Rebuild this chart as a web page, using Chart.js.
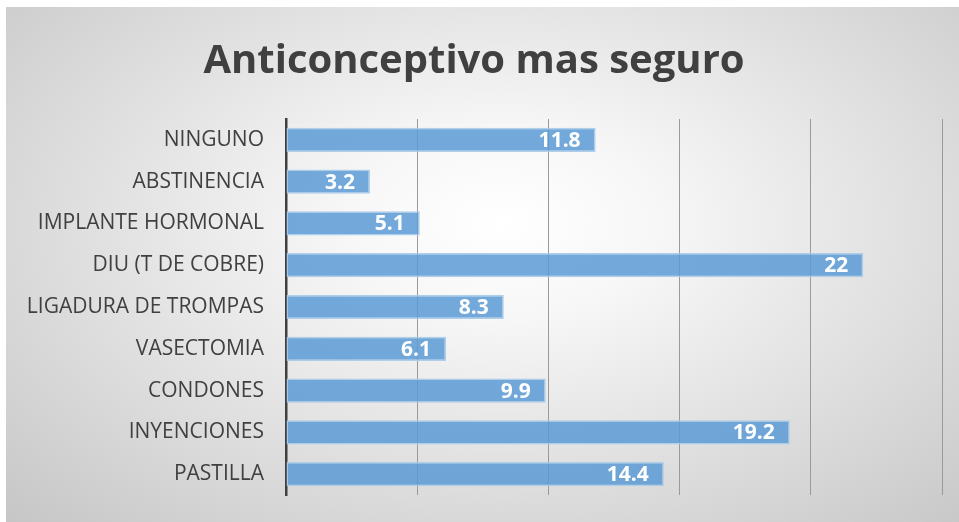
<!DOCTYPE html>
<html>
<head>
<meta charset="utf-8">
<script src="https://cdn.jsdelivr.net/npm/chart.js@4/dist/chart.umd.min.js"></script>
<style>
  html, body { margin: 0; padding: 0; background: #ffffff; }
  #wrap {
    position: absolute; left: 6px; top: 7px; width: 953px; height: 515px;
    background: radial-gradient(ellipse at 52% 42%, #ffffff 0%, #f7f7f7 22%, #c6c6c6 100%);
  }
</style>
</head>
<body>
<div id="wrap"><canvas id="c" width="953" height="515"></canvas></div>
<script>
const categories = ["NINGUNO", "ABSTINENCIA", "IMPLANTE HORMONAL", "DIU (T DE COBRE)", "LIGADURA DE TROMPAS", "VASECTOMIA", "CONDONES", "INYENCIONES", "PASTILLA"];
const values = [11.8, 3.2, 5.1, 22, 8.3, 6.1, 9.9, 19.2, 14.4];
const valueLabels = ["11.8", "3.2", "5.1", "22", "8.3", "6.1", "9.9", "19.2", "14.4"];
const titleText = "Anticonceptivo mas seguro";

const labelPlugin = {
  id: 'barLabels',
  afterDatasetsDraw(chart) {
    const ctx = chart.ctx;
    const meta = chart.getDatasetMeta(0);
    ctx.save();
    ctx.fillStyle = '#ffffff';
    ctx.font = 'bold 21px "Open Sans"';
    ctx.textAlign = 'right';
    ctx.textBaseline = 'middle';
    meta.data.forEach((el, i) => {
      ctx.fillText(valueLabels[i], el.x - 15, el.y + 1);
    });
    ctx.restore();
  }
};

new Chart(document.getElementById('c'), {
  type: 'bar',
  data: {
    labels: categories,
    datasets: [{
      data: values,
      backgroundColor: 'rgba(91,155,213,0.85)',
      borderColor: 'rgba(170,203,233,0.95)',
      borderWidth: 1.5,
      borderSkipped: false,
      barPercentage: 0.58,
      categoryPercentage: 1.0
    }]
  },
  options: {
    indexAxis: 'y',
    responsive: false,
    animation: false,
    devicePixelRatio: 1,
    layout: { padding: { left: 0, right: 17, top: 0, bottom: 27 } },
    plugins: {
      legend: { display: false },
      tooltip: { enabled: false },
      title: {
        display: true,
        text: titleText,
        color: '#404040',
        font: { family: '"Open Sans"', size: 40, weight: 'bold', lineHeight: 1.2 },
        padding: { top: 31, bottom: 33 }
      }
    },
    scales: {
      x: {
        min: 0, max: 25,
        ticks: { display: false, stepSize: 5 },
        grid: { color: '#9a9a9a', lineWidth: 1, drawTicks: false },
        border: { display: false }
      },
      y: {
        afterFit(scale) { scale.width = 280; scale.paddingTop = 0; scale.paddingBottom = 0; },
        ticks: { color: '#404040', font: { family: '"Open Sans"', size: 21 }, padding: 22 },
        grid: { display: false, drawTicks: false },
        border: { display: true, color: '#404040', width: 2.5 }
      }
    }
  },
  plugins: [labelPlugin]
});
</script>
</body>
</html>
